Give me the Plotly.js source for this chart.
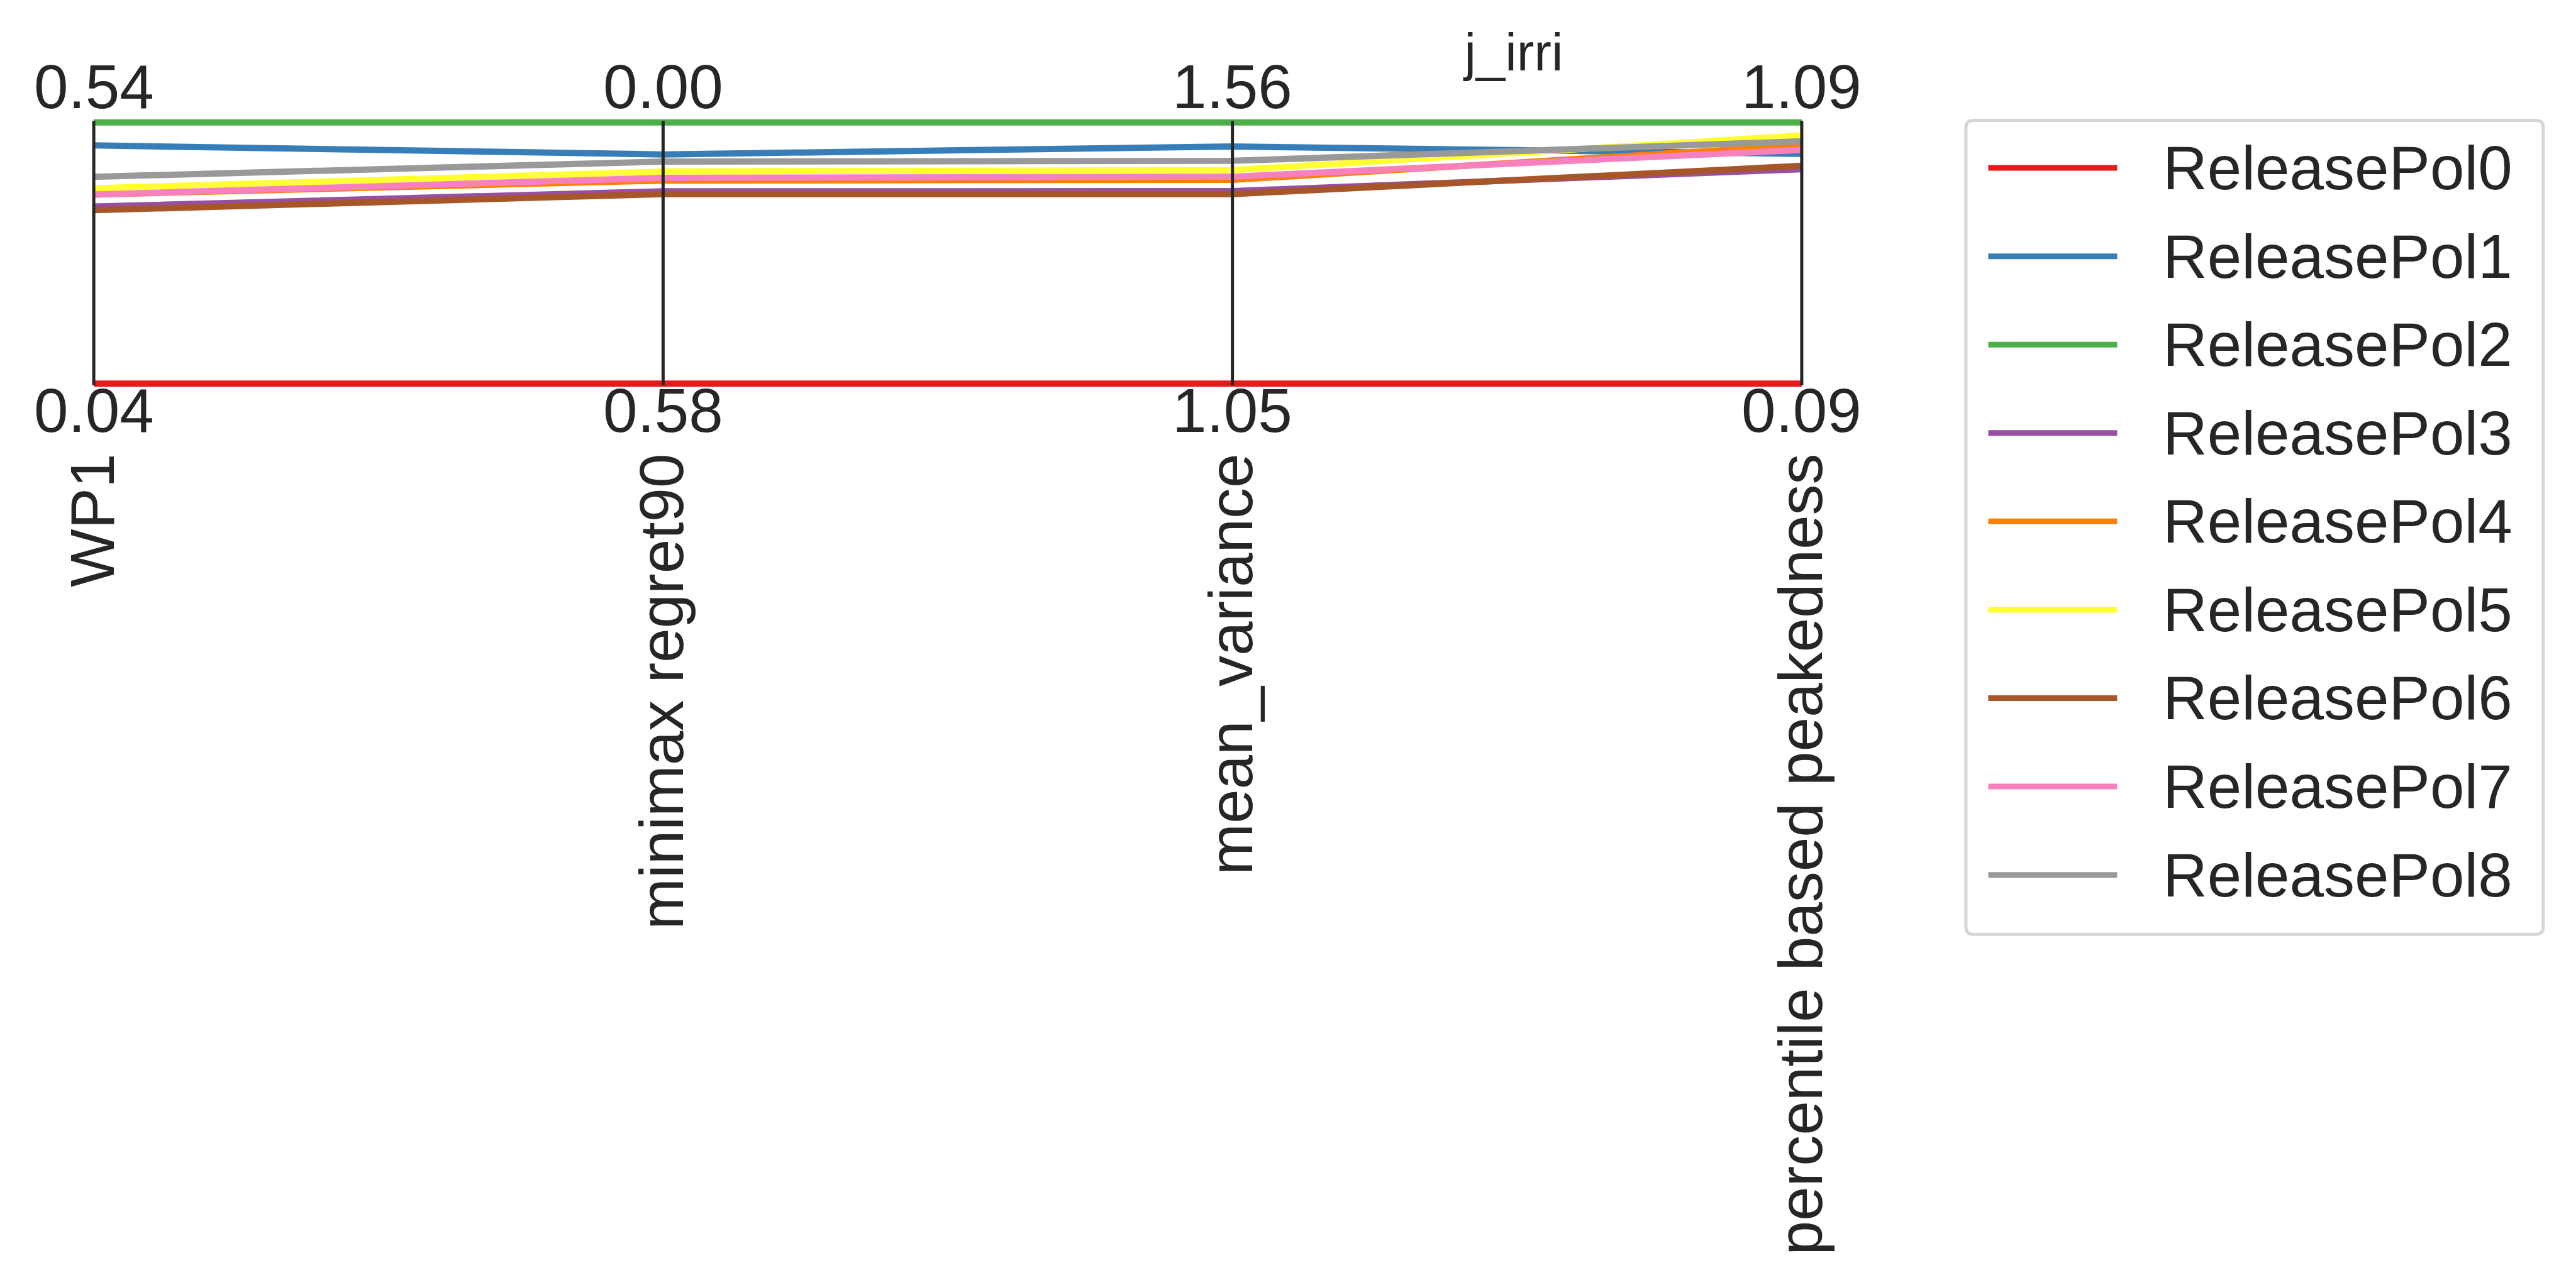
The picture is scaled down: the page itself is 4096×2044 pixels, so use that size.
<!DOCTYPE html>
<html>
<head>
<meta charset="utf-8">
<script src="https://cdn.plot.ly/plotly-3.0.1.min.js"></script>
<style>html,body{margin:0;padding:0;background:#fff;}#chart{width:4096px;height:2044px;}</style>
</head>
<body>
<div id="chart"></div>
<script>
// ---------------- data ----------------
const axisNames = ['WP1', 'minimax regret90', 'mean_variance', 'percentile based peakedness'];
const axisTop = [0.54, 0.00, 1.56, 1.09];      // value drawn at the top of each axis
const axisBottom = [0.04, 0.58, 1.05, 0.09];   // value drawn at the bottom of each axis
const topLabels = ['0.54', '0.00', '1.56', '1.09'];
const bottomLabels = ['0.04', '0.58', '1.05', '0.09'];

const policies = ['ReleasePol0', 'ReleasePol1', 'ReleasePol2', 'ReleasePol3', 'ReleasePol4',
                  'ReleasePol5', 'ReleasePol6', 'ReleasePol7', 'ReleasePol8'];
const policyColors = ['#e41a1c', '#377eb8', '#4daf4a', '#984ea3', '#ff7f00',
                      '#ffff33', '#a65628', '#f781bf', '#999999'];

const WP1             = [0.040, 0.496, 0.540, 0.379, 0.402, 0.414, 0.372, 0.402, 0.436];
const minimaxRegret90 = [0.580, 0.071, 0.000, 0.153, 0.129, 0.109, 0.159, 0.123, 0.087];
const meanVariance    = [1.050, 1.513, 1.560, 1.426, 1.448, 1.467, 1.420, 1.454, 1.485];
const peakedness      = [0.090, 0.970, 1.090, 0.911, 1.002, 1.040, 0.924, 0.985, 1.018];

const title = 'j_irri';

// ---------------- layout geometry (px in 4096x2044 window) ----------------
const FIG_W = 4096, FIG_H = 2044;
const L = 130.8, W = 2751.8, T = 174.1, H = 457.1;
const R = FIG_W - L - W, B = FIG_H - T - H;
const px2x = p => (p - L) / W;
const px2y = p => 1 - (p - T) / H;

const TEXT = '#262626';
const FONT = 'Liberation Sans, Arial, Helvetica, sans-serif';
const FS = 98;

const columns = [WP1, minimaxRegret90, meanVariance, peakedness];
const norm = (v, k) => (v - axisBottom[k]) / (axisTop[k] - axisBottom[k]);

const traces = policies.map((name, i) => ({
  type: 'scatter',
  mode: 'lines',
  name: name,
  x: axisNames.map((_, k) => k),
  y: columns.map((col, k) => norm(col[i], k)),
  line: {color: policyColors[i], width: 10},
  showlegend: false,
  hoverinfo: 'skip'
}));

const shapes = [];
const annotations = [];

// vertical axes
axisNames.forEach((_, k) => {
  shapes.push({type: 'line', xref: 'x', yref: 'y', x0: k, x1: k, y0: -0.006, y1: 1.006,
               line: {color: TEXT, width: 5}, layer: 'above'});
  annotations.push({xref: 'x', yref: 'y', x: k, y: 1, text: topLabels[k], showarrow: false,
                    xanchor: 'center', yanchor: 'bottom', yshift: 0,
                    font: {size: FS, color: TEXT, family: FONT}});
  annotations.push({xref: 'x', yref: 'y', x: k, y: 0, text: bottomLabels[k], showarrow: false,
                    xanchor: 'center', yanchor: 'top', yshift: 14,
                    font: {size: FS, color: TEXT, family: FONT}});
});

// legend (frame, line samples, labels)
(function () {
  const x0 = px2x(3125.5), x1 = px2x(4043.5);
  const yt = px2y(191.5), yb = px2y(1486.7);
  const rx = 12 / W, ry = 12 / H;
  const path = 'M' + (x0 + rx) + ',' + yt +
    ' L' + (x1 - rx) + ',' + yt + ' Q' + x1 + ',' + yt + ' ' + x1 + ',' + (yt - ry) +
    ' L' + x1 + ',' + (yb + ry) + ' Q' + x1 + ',' + yb + ' ' + (x1 - rx) + ',' + yb +
    ' L' + (x0 + rx) + ',' + yb + ' Q' + x0 + ',' + yb + ' ' + x0 + ',' + (yb + ry) +
    ' L' + x0 + ',' + (yt - ry) + ' Q' + x0 + ',' + yt + ' ' + (x0 + rx) + ',' + yt + ' Z';
  shapes.push({type: 'path', xref: 'paper', yref: 'paper', path: path,
               line: {color: '#d6d6d6', width: 5}, fillcolor: '#ffffff', layer: 'below'});
  const firstY = 267.2, step = 140.6;
  policies.forEach((name, i) => {
    const yc = px2y(firstY + i * step);
    shapes.push({type: 'line', xref: 'paper', yref: 'paper',
                 x0: px2x(3161), x1: px2x(3366), y0: yc, y1: yc,
                 line: {color: policyColors[i], width: 9}});
    annotations.push({xref: 'paper', yref: 'paper', x: px2x(3437), y: yc, text: name,
                      showarrow: false, xanchor: 'left', yanchor: 'middle',
                      font: {size: FS, color: TEXT, family: FONT}});
  });
})();

const layout = {
  width: FIG_W, height: FIG_H,
  margin: {l: L, r: R, t: T, b: B, pad: 0},
  paper_bgcolor: '#ffffff', plot_bgcolor: 'rgba(0,0,0,0)',
  font: {family: FONT, color: TEXT, size: FS},
  showlegend: false,
  title: {text: title, xref: 'container', yref: 'container',
          x: 2407 / FIG_W, xanchor: 'center', y: 1 - 111.5 / FIG_H, yanchor: 'bottom',
          font: {size: 83, color: TEXT, family: FONT}},
  xaxis: {range: [-0.02, 3.02], showgrid: false, zeroline: false, showline: false,
          tickmode: 'array', tickvals: axisNames.map((_, k) => k), ticktext: axisNames,
          tickangle: -90, ticks: '', ticklabelstandoff: 70,
          tickfont: {size: FS, color: TEXT, family: FONT}, fixedrange: true},
  yaxis: {range: [-0.05, 1.05], visible: false, fixedrange: true},
  shapes: shapes,
  annotations: annotations
};

Plotly.newPlot('chart', traces, layout, {displayModeBar: false, staticPlot: true});
</script>
</body>
</html>
